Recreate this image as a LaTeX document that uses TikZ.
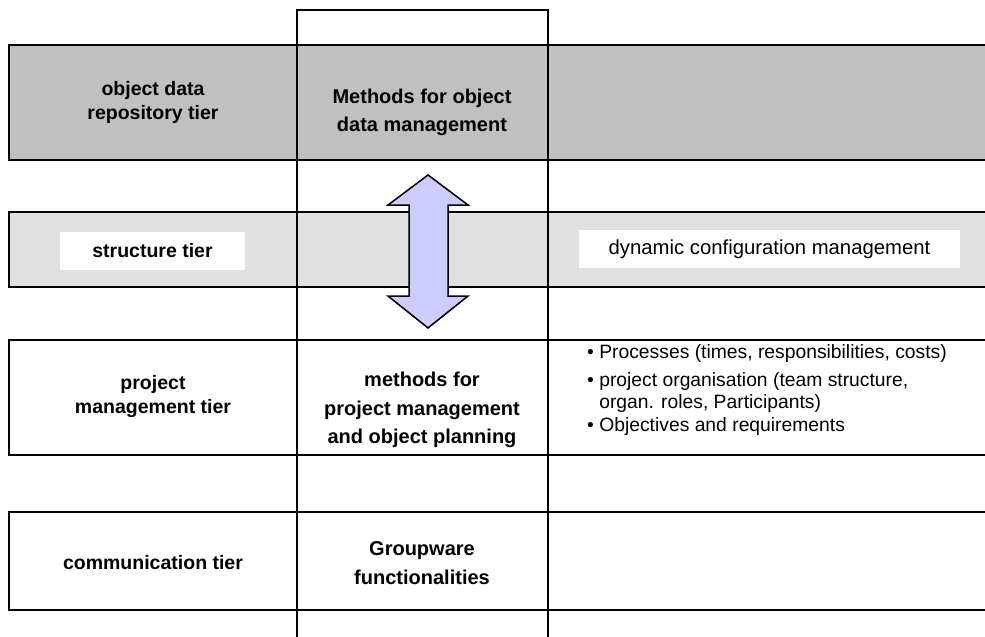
\documentclass[tikz,border=0pt]{standalone}
\usepackage{fontspec}
\setmainfont{Liberation Sans}
\begin{document}
\begin{tikzpicture}[x=1pt,y=-1pt,
  bandline/.style={line width=2pt,black},
  colline/.style={line width=1.5pt,black},
  lbl/.style={font=\fontsize{19.5}{24}\selectfont\bfseries,align=center,inner sep=0pt},
  clbl/.style={font=\fontsize{20}{28.5}\selectfont\bfseries,align=center,inner sep=0pt},
  rtxt/.style={font=\fontsize{19.3}{22}\selectfont,inner sep=0pt},
  dtxt/.style={font=\fontsize{20.3}{24}\selectfont,inner sep=0pt},
  whitebox/.style={fill=white,inner sep=0pt}]
\definecolor{darkband}{RGB}{192,192,192}
\definecolor{lightband}{RGB}{224,224,224}
\definecolor{arrowfill}{RGB}{204,204,255}
\useasboundingbox (0,0) rectangle (985,637);
% bands
\fill[darkband] (9,45) rectangle (986,160);
\draw[bandline] (986,45) -- (9,45) -- (9,160) -- (986,160);
\fill[lightband] (9,212) rectangle (986,287);
\draw[bandline] (986,212) -- (9,212) -- (9,287) -- (986,287);
\draw[bandline] (986,340) -- (9,340) -- (9,455) -- (986,455);
\draw[bandline] (986,512) -- (9,512) -- (9,610) -- (986,610);
% column
\draw[colline] (297,640) -- (297,10) -- (548,10) -- (548,640);
% arrow
\draw[line width=1.5pt,fill=arrowfill,line join=miter]
  (428,175) -- (468,205) -- (448,205) -- (448,296) -- (468,296) -- (428,328)
  -- (388,296) -- (409,296) -- (409,205) -- (388,205) -- cycle;
% texts
\node[lbl] (l1) at (153,102) {object data\\repository tier};
\node[clbl] (c1) at (422,112.5) {Methods for object\\data management};
\node[whitebox,minimum width=185pt,minimum height=38pt] (s) at (152.5,251) {};
\node[lbl] (st) at (s.center) {structure tier};
\node[whitebox,minimum width=381pt,minimum height=38pt] (d) at (769.5,249) {};
\node[dtxt] (dt) at (d.center) {dynamic configuration management};
\node[lbl] (l3) at (153,396) {project\\management tier};
\node[clbl] (c3) at (422,410) {methods for\\project management\\and object planning};
\node[rtxt,anchor=west,align=left] (r3) at (587,390) {%
  \textbullet\ Processes (times, responsibilities, costs)\\[6pt]
  \textbullet\ project organisation (team structure,\\
  \phantom{\textbullet\ }organ. roles, Participants)\\[1pt]
  \textbullet\ Objectives and requirements};
\node[lbl] (l4) at (153,563) {communication tier};
\node[clbl] (c4) at (422,563) {Groupware\\functionalities};
\end{tikzpicture}
\end{document}
